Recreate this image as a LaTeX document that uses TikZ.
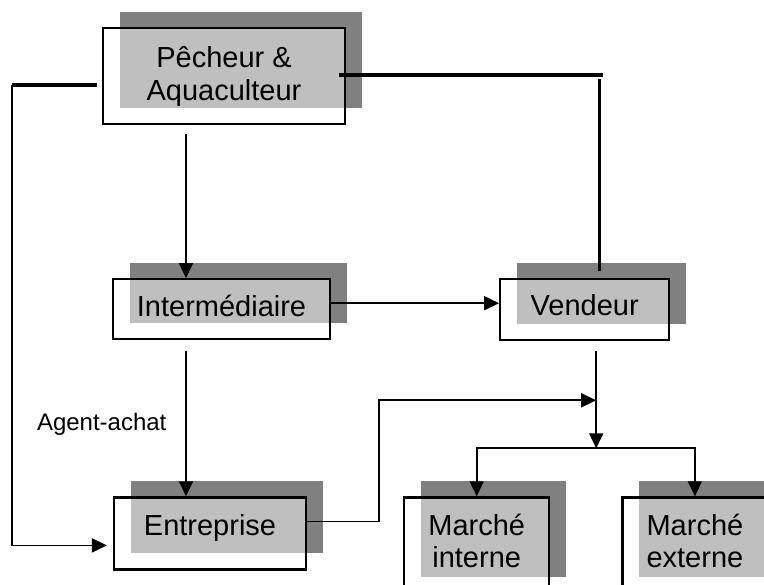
\documentclass[tikz,border=0pt]{standalone}
\usepackage{fontspec}
\setmainfont{Liberation Sans}
\usetikzlibrary{arrows.meta,positioning,shadows}

\begin{document}
\begin{tikzpicture}[
    box/.style={rectangle, draw=black, line width=1.1pt,
                fill=white, fill opacity=0.5, text opacity=1,
                drop shadow={shadow xshift=8.25pt, shadow yshift=8pt,
                             opacity=1, fill=black!50, draw=none},
                align=center, font=\fontsize{14.5pt}{16pt}\selectfont,
                inner sep=0pt},
    mktbox/.style={box, minimum width=72.5pt, minimum height=48pt,
                   execute at end node={\rule[-4.2pt]{0pt}{0pt}}},
    arr/.style={-{Triangle[length=7.5pt,width=7pt]}, line width=0.9pt},
    bar/.style={line width=1.6pt},
    lbl/.style={font=\fontsize{12pt}{14pt}\selectfont}
  ]

  %% Page frame
  \useasboundingbox (0,0) rectangle (382pt,-292pt);
  \clip (0,0) rectangle (382pt,-292pt);

  %% Boxes (top to bottom)
  \node[box, minimum width=121pt, minimum height=48pt,
        font=\fontsize{14.5pt}{16.5pt}\selectfont] (peche) at (112pt,-38pt)
        {Pêcheur \&\\Aquaculteur};
  \node[box, minimum width=108.5pt, minimum height=30pt, text depth=3pt,
        below=76.5pt of peche, xshift=-1.25pt] (inter) {Intermédiaire};
  \node[box, minimum width=84.5pt, minimum height=30.5pt, text depth=4pt,
        right=84pt of inter] (vend) {Vendeur};
  \node[box, minimum width=96pt, minimum height=36pt, text depth=8.4pt,
        below=78pt of inter.south west, anchor=north west, xshift=0.5pt] (entr) {Entreprise};
  \node[mktbox, right=48pt of entr.north east, anchor=north west] (mint) {Marché\\interne};
  \node[mktbox, right=35.5pt of mint.north east, anchor=north west] (mext) {Marché\\externe};

  %% Fisher down to the middleman, then to the company
  \coordinate (a1) at ([xshift=-19pt,yshift=-4.5pt]peche.south);
  \draw[arr] (a1) -- (a1 |- inter.north);
  \coordinate (a2) at ([yshift=-5.5pt]a1 |- inter.south);
  \draw[arr] (a2) -- node[lbl, left=6pt]{Agent-achat} (a2 |- entr.north);

  %% Middleman to seller
  \draw[arr] ([yshift=3pt]inter.east) -- ([yshift=3pt]inter.east -| vend.west);

  %% Thick lines from the fisher to the seller
  \coordinate (t1) at ([xshift=-3.5pt,yshift=0.5pt]peche.east);
  \coordinate (t2) at ([xshift=132pt]t1);
  \draw[bar] (t1) -- (t2);
  \coordinate (t3) at ([xshift=7.25pt,yshift=3.5pt]vend.north);
  \draw[bar] ([yshift=-2pt]t3 |- t1) -- (t3);

  %% Fisher straight to the company
  \coordinate (l1) at ([xshift=-2.5pt,yshift=-4.5pt]peche.west);
  \coordinate (l2) at ([xshift=-42.5pt]l1);
  \draw[bar] (l1) -- (l2);
  \draw[arr] (l2) |- ([xshift=-3pt,yshift=-6pt]entr.west);

  %% Seller and company down to the markets
  \coordinate (v1) at ([xshift=5.75pt,yshift=-5pt]vend.south);
  \coordinate (sp) at ([yshift=24pt]v1 |- mint.north);
  \coordinate (jn) at ([yshift=24pt]sp);
  \draw[arr] (v1) -- (sp);
  \draw[arr] ([yshift=6pt]entr.east) -- ++(36pt,0) |- (jn);
  \draw[arr] (sp) -| (mint.north);
  \draw[arr] (sp) -| (mext.north);

\end{tikzpicture}
\end{document}
